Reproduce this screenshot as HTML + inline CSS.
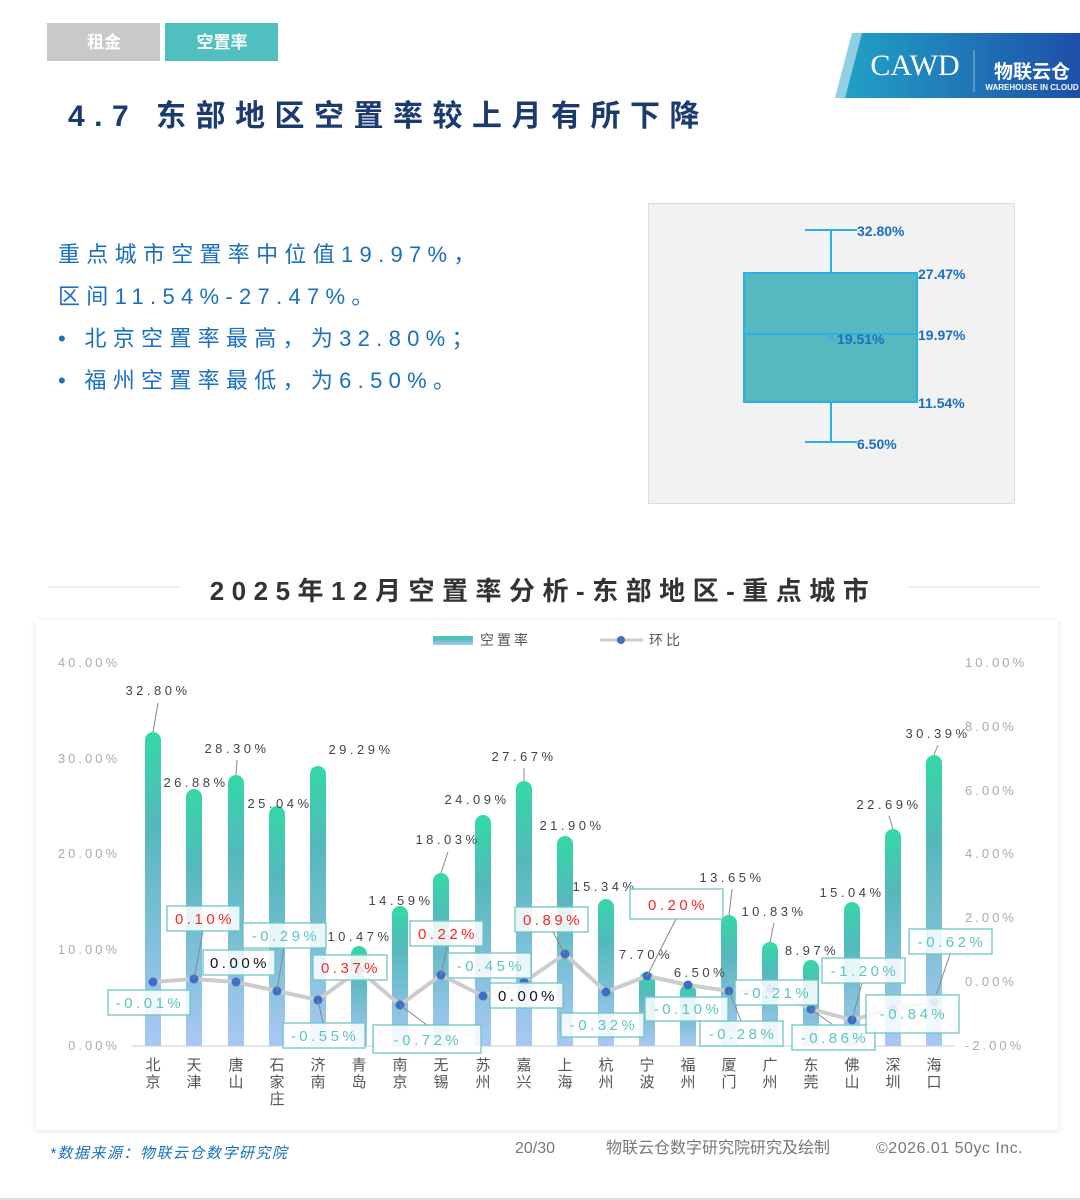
<!DOCTYPE html>
<html><head><meta charset="utf-8"><style>
html,body{margin:0;padding:0;background:#fff;width:1080px;height:1200px;overflow:hidden;font-family:"Liberation Sans","Noto Sans CJK SC",sans-serif}
</style></head><body>
<svg width="1080" height="1200" viewBox="0 0 1080 1200" xmlns="http://www.w3.org/2000/svg" font-family="Liberation Sans, Noto Sans CJK SC, sans-serif">
<defs>
<linearGradient id="bg" x1="0" y1="0" x2="0" y2="1"><stop offset="0" stop-color="#33d9a6"/><stop offset="0.3" stop-color="#55b8bc"/><stop offset="1" stop-color="#a9c8f5"/></linearGradient>
<linearGradient id="lg" x1="0" y1="0" x2="1" y2="0"><stop offset="0" stop-color="#22a4c8"/><stop offset="1" stop-color="#1d4fa8"/></linearGradient>
<filter id="sh" x="-5%" y="-5%" width="110%" height="110%"><feDropShadow dx="0" dy="1" stdDeviation="3" flood-color="#000" flood-opacity="0.12"/></filter>
</defs>
<rect x="47" y="23" width="113" height="38" fill="#c9c9c9"/>
<text x="104" y="48" font-size="17" fill="#fff" text-anchor="middle" font-weight="bold">租金</text>
<rect x="165" y="23" width="113" height="38" fill="#4fbfbf"/>
<text x="222" y="48" font-size="17" fill="#fff" text-anchor="middle" font-weight="bold">空置率</text>
<polygon points="852,33 1080,33 1080,98 835,98" fill="url(#lg)"/>
<polygon points="852,33 862,33 845,98 835,98" fill="#fff" opacity="0.5"/>
<text x="915" y="75" font-size="30" fill="#fff" text-anchor="middle" font-family="Liberation Serif, serif">CAWD</text>
<line x1="974" y1="50" x2="974" y2="92" stroke="#fff" stroke-opacity="0.5"/>
<text x="1032" y="78" font-size="19" fill="#fff" text-anchor="middle" font-weight="bold">物联云仓</text>
<text x="1032" y="90" font-size="8" fill="#fff" text-anchor="middle" font-weight="bold">WAREHOUSE IN CLOUD</text>
<text x="68" y="126" font-size="30" font-weight="bold" fill="#1b3a70" letter-spacing="9.5">4.7 东部地区空置率较上月有所下降</text>
<g font-size="22" fill="#1a6fbf" letter-spacing="6.3">
<text x="58" y="262">重点城市空置率中位值19.97%，</text>
<text x="58" y="304">区间11.54%-27.47%。</text>
<text x="58" y="346">•  北京空置率最高，为32.80%；</text>
<text x="58" y="388">•  福州空置率最低，为6.50%。</text>
</g>
<rect x="648.5" y="203.5" width="366" height="300" fill="#f2f2f2" stroke="#dcdcdc"/>
<g stroke="#2ab0e6" stroke-width="2" fill="none">
<line x1="805" y1="230" x2="857" y2="230"/><line x1="831" y1="230" x2="831" y2="273"/>
<line x1="805" y1="442" x2="857" y2="442"/><line x1="831" y1="402" x2="831" y2="442"/>
</g>
<rect x="744" y="273" width="173" height="129" fill="#57b9bf" stroke="#2ab0e6" stroke-width="2"/>
<line x1="744" y1="334" x2="917" y2="334" stroke="#2ab0e6" stroke-width="2"/>
<text x="831" y="343" font-size="16" fill="#2ab0e6" text-anchor="middle">×</text>
<g font-size="14" font-weight="bold" fill="#1a6fbf">
<text x="857" y="236">32.80%</text><text x="918" y="279">27.47%</text>
<text x="837" y="344">19.51%</text><text x="918" y="340">19.97%</text>
<text x="918" y="408">11.54%</text><text x="857" y="449">6.50%</text>
</g>
<line x1="48" y1="587" x2="1040" y2="587" stroke="#e3e3e3"/>
<rect x="180" y="570" width="728" height="44" rx="8" fill="#fff"/>
<text x="543" y="600" font-size="26" font-weight="bold" fill="#333" text-anchor="middle" letter-spacing="7.5">2025年12月空置率分析-东部地区-重点城市</text>
<rect x="36" y="620" width="1022" height="510" fill="#fff" filter="url(#sh)"/>
<rect x="433" y="636" width="40" height="9" fill="url(#bg)"/>
<text x="480" y="645" font-size="14" fill="#555" letter-spacing="3">空置率</text>
<line x1="600" y1="640" x2="643" y2="640" stroke="#ccc" stroke-width="3"/>
<circle cx="621" cy="640" r="4" fill="#3f6fc4"/>
<text x="649" y="645" font-size="14" fill="#555" letter-spacing="3">环比</text>
<g font-size="13" fill="#aaa" letter-spacing="3">
<text x="120" y="667" text-anchor="end">40.00%</text>
<text x="120" y="763" text-anchor="end">30.00%</text>
<text x="120" y="858" text-anchor="end">20.00%</text>
<text x="120" y="954" text-anchor="end">10.00%</text>
<text x="120" y="1050" text-anchor="end">0.00%</text>
<text x="965" y="667">10.00%</text>
<text x="965" y="731">8.00%</text>
<text x="965" y="795">6.00%</text>
<text x="965" y="858">4.00%</text>
<text x="965" y="922">2.00%</text>
<text x="965" y="986">0.00%</text>
<text x="965" y="1050">-2.00%</text>
</g>
<line x1="132" y1="1046" x2="955" y2="1046" stroke="#ddd" stroke-width="1.5"/>
<g fill="url(#bg)">
<path d="M145,1046V740A8,8 0 0 1 161,740V1046Z"/>
<path d="M186,1046V797A8,8 0 0 1 202,797V1046Z"/>
<path d="M228,1046V783A8,8 0 0 1 244,783V1046Z"/>
<path d="M269,1046V814A8,8 0 0 1 285,814V1046Z"/>
<path d="M310,1046V774A8,8 0 0 1 326,774V1046Z"/>
<path d="M351,1046V954A8,8 0 0 1 367,954V1046Z"/>
<path d="M392,1046V914A8,8 0 0 1 408,914V1046Z"/>
<path d="M433,1046V881A8,8 0 0 1 449,881V1046Z"/>
<path d="M475,1046V823A8,8 0 0 1 491,823V1046Z"/>
<path d="M516,1046V789A8,8 0 0 1 532,789V1046Z"/>
<path d="M557,1046V844A8,8 0 0 1 573,844V1046Z"/>
<path d="M598,1046V907A8,8 0 0 1 614,907V1046Z"/>
<path d="M639,1046V980A8,8 0 0 1 655,980V1046Z"/>
<path d="M680,1046V992A8,8 0 0 1 696,992V1046Z"/>
<path d="M721,1046V923A8,8 0 0 1 737,923V1046Z"/>
<path d="M762,1046V950A8,8 0 0 1 778,950V1046Z"/>
<path d="M803,1046V968A8,8 0 0 1 819,968V1046Z"/>
<path d="M844,1046V910A8,8 0 0 1 860,910V1046Z"/>
<path d="M885,1046V837A8,8 0 0 1 901,837V1046Z"/>
<path d="M926,1046V763A8,8 0 0 1 942,763V1046Z"/>
</g>
<g font-size="13" fill="#444" text-anchor="middle" letter-spacing="3.5">
<text x="158" y="695">32.80%</text><text x="196" y="787">26.88%</text><text x="237" y="753">28.30%</text>
<text x="280" y="808">25.04%</text><text x="361" y="754">29.29%</text><text x="360" y="941">10.47%</text>
<text x="401" y="905">14.59%</text><text x="448" y="844">18.03%</text><text x="477" y="804">24.09%</text>
<text x="524" y="761">27.67%</text><text x="572" y="830">21.90%</text><text x="605" y="891">15.34%</text>
<text x="646" y="959">7.70%</text><text x="701" y="977">6.50%</text><text x="732" y="882">13.65%</text>
<text x="774" y="916">10.83%</text><text x="812" y="955">8.97%</text><text x="852" y="897">15.04%</text>
<text x="889" y="809">22.69%</text><text x="938" y="738">30.39%</text>
</g>
<g stroke="#888" stroke-width="1">
<line x1="158" y1="703" x2="153" y2="732"/><line x1="237" y1="760" x2="236" y2="775"/>
<line x1="448" y1="852" x2="441" y2="873"/><line x1="524" y1="768" x2="524" y2="781"/>
<line x1="732" y1="889" x2="729" y2="915"/><line x1="774" y1="923" x2="770" y2="942"/>
<line x1="889" y1="816" x2="893" y2="829"/><line x1="938" y1="745" x2="934" y2="755"/>
</g>
<polyline fill="none" stroke="#ccc" stroke-width="4" stroke-linejoin="round" points="153,982 194,979 236,982 277,991 318,1000 359,970 400,1005 441,975 483,996 524,982 565,954 606,992 647,976 688,985 729,991 770,989 811,1009 852,1020 893,1009 934,1002"/>
<g fill="#3f6fc4">
<circle cx="153" cy="982" r="4.5"/><circle cx="194" cy="979" r="4.5"/><circle cx="236" cy="982" r="4.5"/><circle cx="277" cy="991" r="4.5"/><circle cx="318" cy="1000" r="4.5"/><circle cx="359" cy="970" r="4.5"/><circle cx="400" cy="1005" r="4.5"/><circle cx="441" cy="975" r="4.5"/><circle cx="483" cy="996" r="4.5"/><circle cx="524" cy="982" r="4.5"/><circle cx="565" cy="954" r="4.5"/><circle cx="606" cy="992" r="4.5"/><circle cx="647" cy="976" r="4.5"/><circle cx="688" cy="985" r="4.5"/><circle cx="729" cy="991" r="4.5"/><circle cx="770" cy="989" r="4.5"/><circle cx="811" cy="1009" r="4.5"/><circle cx="852" cy="1020" r="4.5"/><circle cx="893" cy="1009" r="4.5"/><circle cx="934" cy="1002" r="4.5"/>
</g>
<g stroke="#888" stroke-width="1">
<line x1="194" y1="979" x2="203" y2="931"/><line x1="277" y1="991" x2="284" y2="948"/><line x1="318" y1="1000" x2="323" y2="1023"/>
<line x1="400" y1="1005" x2="427" y2="1025"/><line x1="441" y1="975" x2="447" y2="946"/><line x1="565" y1="954" x2="553" y2="932"/>
<line x1="647" y1="976" x2="676" y2="919"/><line x1="729" y1="991" x2="741" y2="1021"/><line x1="852" y1="1020" x2="862" y2="983"/>
<line x1="934" y1="1002" x2="950" y2="954"/><line x1="811" y1="1009" x2="833" y2="1025"/>
</g>
<g stroke="#6cc5c5" stroke-width="1.3" fill="#fff" fill-opacity="0.85">
<rect x="108" y="990" width="82" height="25"/><rect x="167" y="906" width="73" height="25"/><rect x="203" y="950" width="72" height="25"/>
<rect x="243" y="923" width="83" height="25"/><rect x="283" y="1023" width="82" height="25"/><rect x="313" y="955" width="74" height="25"/>
<rect x="373" y="1025" width="108" height="28"/><rect x="410" y="921" width="73" height="25"/><rect x="448" y="953" width="83" height="25"/>
<rect x="490" y="983" width="73" height="25"/><rect x="515" y="907" width="73" height="25"/><rect x="561" y="1013" width="83" height="24"/>
<rect x="630" y="889" width="93" height="30"/><rect x="645" y="997" width="83" height="24"/><rect x="700" y="1021" width="83" height="25"/>
<rect x="735" y="980" width="83" height="25"/><rect x="792" y="1025" width="83" height="25"/><rect x="822" y="958" width="83" height="25"/>
<rect x="866" y="995" width="93" height="38"/><rect x="909" y="929" width="83" height="25"/>
</g>
<g font-size="15" text-anchor="middle" letter-spacing="3.5">
<text x="150" y="1008" fill="#5cc4c4">-0.01%</text><text x="205" y="924" fill="#f22">0.10%</text><text x="240" y="968" fill="#111">0.00%</text>
<text x="286" y="941" fill="#5cc4c4">-0.29%</text><text x="325" y="1041" fill="#5cc4c4">-0.55%</text><text x="351" y="973" fill="#f22">0.37%</text>
<text x="428" y="1045" fill="#5cc4c4">-0.72%</text><text x="448" y="939" fill="#f22">0.22%</text><text x="491" y="971" fill="#5cc4c4">-0.45%</text>
<text x="528" y="1001" fill="#111">0.00%</text><text x="553" y="925" fill="#f22">0.89%</text><text x="604" y="1030" fill="#5cc4c4">-0.32%</text>
<text x="678" y="910" fill="#f22">0.20%</text><text x="688" y="1014" fill="#5cc4c4">-0.10%</text><text x="743" y="1039" fill="#5cc4c4">-0.28%</text>
<text x="778" y="998" fill="#5cc4c4">-0.21%</text><text x="835" y="1043" fill="#5cc4c4">-0.86%</text><text x="865" y="976" fill="#5cc4c4">-1.20%</text>
<text x="914" y="1019" fill="#5cc4c4">-0.84%</text><text x="952" y="947" fill="#5cc4c4">-0.62%</text>
</g>
<g font-size="15" fill="#555" text-anchor="middle">
<text x="153" y="1070">北</text><text x="153" y="1087">京</text>
<text x="194" y="1070">天</text><text x="194" y="1087">津</text>
<text x="236" y="1070">唐</text><text x="236" y="1087">山</text>
<text x="277" y="1070">石</text><text x="277" y="1087">家</text><text x="277" y="1104">庄</text>
<text x="318" y="1070">济</text><text x="318" y="1087">南</text>
<text x="359" y="1070">青</text><text x="359" y="1087">岛</text>
<text x="400" y="1070">南</text><text x="400" y="1087">京</text>
<text x="441" y="1070">无</text><text x="441" y="1087">锡</text>
<text x="483" y="1070">苏</text><text x="483" y="1087">州</text>
<text x="524" y="1070">嘉</text><text x="524" y="1087">兴</text>
<text x="565" y="1070">上</text><text x="565" y="1087">海</text>
<text x="606" y="1070">杭</text><text x="606" y="1087">州</text>
<text x="647" y="1070">宁</text><text x="647" y="1087">波</text>
<text x="688" y="1070">福</text><text x="688" y="1087">州</text>
<text x="729" y="1070">厦</text><text x="729" y="1087">门</text>
<text x="770" y="1070">广</text><text x="770" y="1087">州</text>
<text x="811" y="1070">东</text><text x="811" y="1087">莞</text>
<text x="852" y="1070">佛</text><text x="852" y="1087">山</text>
<text x="893" y="1070">深</text><text x="893" y="1087">圳</text>
<text x="934" y="1070">海</text><text x="934" y="1087">口</text>
</g>
<text x="50" y="1158" font-size="15" fill="#1a6fbf" font-style="italic" letter-spacing="1.5">*数据来源：物联云仓数字研究院</text>
<text x="515" y="1153" font-size="16" fill="#777">20/30</text>
<text x="606" y="1153" font-size="16" fill="#777">物联云仓数字研究院研究及绘制</text>
<text x="876" y="1153" font-size="16" fill="#777" letter-spacing="0.5">©2026.01 50yc Inc.</text>
<line x1="0" y1="1199" x2="1080" y2="1199" stroke="#e0e0e0" stroke-width="2"/>
</svg>
</body></html>
